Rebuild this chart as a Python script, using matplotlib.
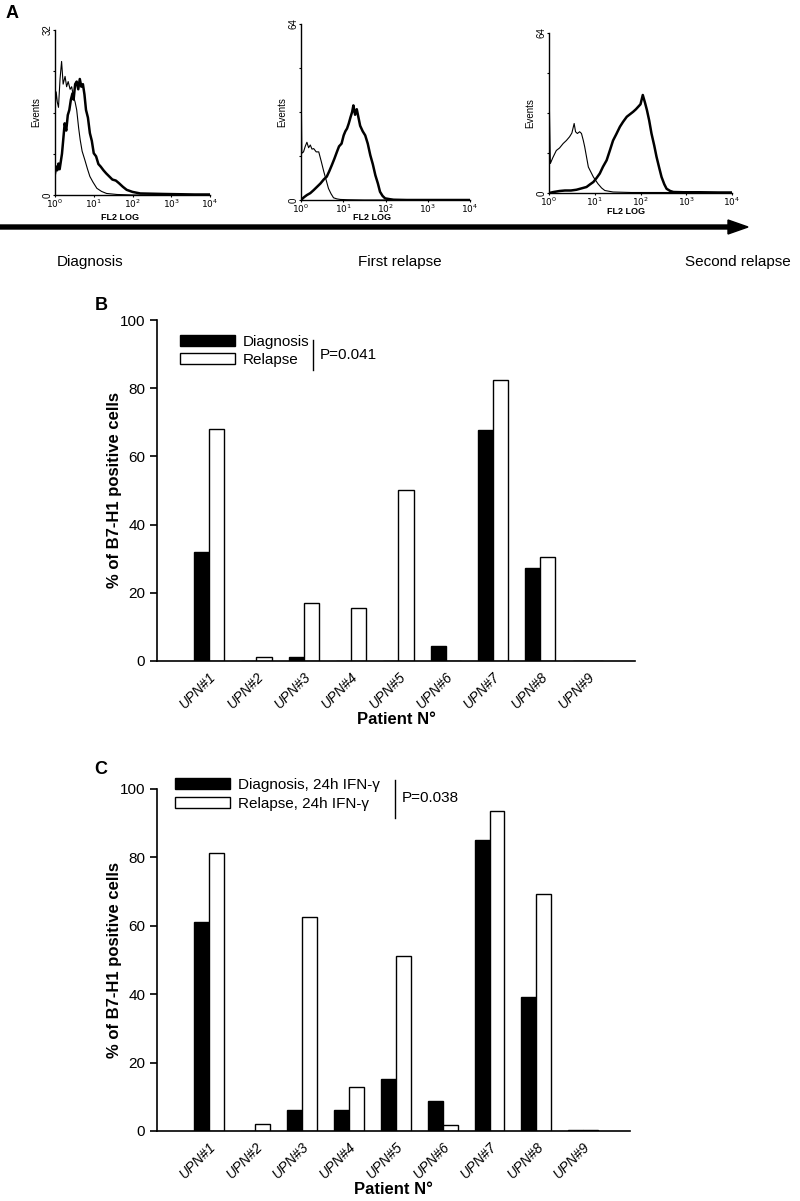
import numpy as np
import matplotlib
matplotlib.use('Agg')
import matplotlib.pyplot as plt
from matplotlib.patches import FancyArrow

plt.rcParams['font.family'] = ['Liberation Sans', 'DejaVu Sans']

# ---- Panel A: flow cytometry histograms (log10 FL2 position, events) ----
h1_ctrl_x = [0.0, 0.03, 0.06, 0.09, 0.13, 0.17, 0.21, 0.26, 0.30, 0.34, 0.39, 0.43, 0.48,
             0.52, 0.56, 0.61, 0.65, 0.70, 0.77, 0.84, 0.90, 0.98, 1.08, 1.20, 1.33, 1.6, 2.0, 2.5, 3.0, 3.5, 4.0]
h1_ctrl_y = [16.5, 20.0, 18.0, 17.0, 22.5, 25.9, 21.5, 23.0, 21.0, 22.0, 20.5, 21.0, 19.0,
             18.0, 16.5, 13.0, 10.7, 8.5, 6.8, 5.0, 3.6, 2.5, 1.3, 0.7, 0.3, 0.1, 0.0, 0.0, 0.0, 0.0, 0.0]
h1_samp_x = [0.0, 0.03, 0.06, 0.09, 0.12, 0.15, 0.18, 0.21, 0.25, 0.29, 0.33, 0.37, 0.41, 0.45,
             0.48, 0.52, 0.56, 0.60, 0.64, 0.68, 0.72, 0.76, 0.80, 0.85, 0.90, 0.95, 1.00, 1.06,
             1.12, 1.18, 1.25, 1.32, 1.40, 1.48, 1.57, 1.65, 1.75, 1.85, 2.0, 2.2, 2.5, 2.8, 3.2, 3.6, 4.0]
h1_samp_y = [4.2, 5.5, 4.8, 6.1, 5.0, 6.5, 8.0, 10.5, 13.9, 12.5, 15.5, 16.5, 18.5, 19.7,
             18.5, 21.5, 22.0, 20.5, 22.5, 21.0, 21.5, 19.5, 16.5, 15.0, 12.0, 10.5, 8.1, 7.5,
             6.0, 5.5, 4.8, 4.2, 3.6, 3.0, 2.8, 2.3, 1.6, 1.0, 0.6, 0.3, 0.25, 0.2, 0.15, 0.1, 0.1]

h2_ctrl_x = [0.0, 0.005, 0.02, 0.06, 0.10, 0.14, 0.18, 0.22, 0.26, 0.30, 0.36, 0.42, 0.48,
             0.54, 0.60, 0.65, 0.71, 0.77, 0.85, 0.93, 1.1, 1.5, 2.0, 3.0, 4.0]
h2_ctrl_y = [0.0, 40.5, 17.0, 17.5, 19.5, 21.0, 19.0, 20.0, 18.5, 18.7, 17.5, 17.5, 14.0,
             10.3, 7.0, 4.2, 2.3, 0.8, 0.4, 0.2, 0.1, 0.0, 0.0, 0.0, 0.0]
h2_samp_x = [0.0, 0.07, 0.14, 0.22, 0.30, 0.38, 0.46, 0.54, 0.61, 0.67, 0.73, 0.79, 0.85,
             0.90, 0.96, 1.01, 1.05, 1.09, 1.13, 1.17, 1.21, 1.24, 1.28, 1.32, 1.36, 1.40,
             1.46, 1.52, 1.58, 1.64, 1.70, 1.76, 1.82, 1.87, 1.93, 1.99, 2.1, 2.19, 2.5, 3.0, 4.0]
h2_samp_y = [0.0, 1.0, 1.8, 2.5, 3.6, 4.8, 6.0, 7.5, 8.5, 10.5, 12.7, 15.0, 17.5,
             19.5, 20.5, 23.5, 25.0, 26.0, 27.8, 30.0, 32.0, 34.4, 31.0, 33.0, 30.0, 27.0,
             25.0, 23.5, 20.5, 16.3, 13.0, 9.0, 6.0, 3.0, 1.5, 0.6, 0.3, 0.1, 0.0, 0.0, 0.0]

h3_ctrl_x = [0.0, 0.005, 0.03, 0.08, 0.16, 0.23, 0.31, 0.38, 0.45, 0.50, 0.55, 0.58, 0.62,
             0.67, 0.71, 0.75, 0.78, 0.86, 0.97, 1.07, 1.15, 1.22, 1.40, 1.8, 2.5, 3.2, 4.0]
h3_ctrl_y = [0.0, 37.9, 11.8, 14.0, 17.0, 18.0, 19.8, 21.0, 22.5, 24.0, 27.8, 24.5, 23.8,
             24.5, 23.8, 21.0, 18.5, 10.4, 6.4, 3.7, 2.0, 1.0, 0.4, 0.2, 0.2, 0.2, 0.2]
h3_samp_x = [0.0, 0.10, 0.23, 0.35, 0.48, 0.60, 0.70, 0.82, 0.90, 0.97, 1.04, 1.11, 1.18,
             1.26, 1.33, 1.40, 1.47, 1.55, 1.62, 1.70, 1.77, 1.84, 1.90, 1.95, 2.00, 2.05,
             2.10, 2.14, 2.19, 2.24, 2.30, 2.35, 2.41, 2.46, 2.52, 2.57, 2.65, 2.72, 2.94, 3.3, 3.7, 4.0]
h3_samp_y = [0.0, 0.4, 0.8, 1.0, 1.0, 1.3, 1.8, 2.4, 3.5, 4.4, 6.0, 7.8, 10.5,
             13.1, 17.0, 21.0, 23.5, 26.5, 28.5, 30.5, 31.5, 32.5, 33.5, 34.5, 35.5, 39.2,
             36.0, 33.2, 29.0, 23.8, 19.0, 14.5, 10.0, 6.4, 3.5, 1.7, 0.8, 0.4, 0.3, 0.3, 0.2, 0.2]

hist_ymax = [32, 64, 64]
timeline_labels = ['Diagnosis', 'First relapse', 'Second relapse']

# ---- Panels B and C: % of B7-H1 positive cells ----
patients = ['UPN#1', 'UPN#2', 'UPN#3', 'UPN#4', 'UPN#5', 'UPN#6', 'UPN#7', 'UPN#8', 'UPN#9']
b_diagnosis = [32.0, 0.0, 1.2, 0.0, 0.0, 4.4, 67.7, 27.3, 0.0]
b_relapse = [68.0, 1.3, 17.0, 15.5, 50.2, 0.0, 82.4, 30.5, 0.0]
c_diagnosis = [61.2, 0.0, 6.0, 6.2, 15.3, 8.7, 85.2, 39.3, 0.3]
c_relapse = [81.4, 2.0, 62.5, 13.0, 51.2, 1.8, 93.5, 69.2, 0.3]

fig = plt.figure(figsize=(8, 12.01), dpi=100)

# ---------------- Panel A ----------------
hist_boxes = [(55, 210, 30, 195), (301, 470, 24, 200), (549, 732, 33, 193)]
xlabel_offsets = [22, 18, 19]   # px below the axis for "FL2 LOG"
hist_data = [(h1_ctrl_x, h1_ctrl_y, h1_samp_x, h1_samp_y),
             (h2_ctrl_x, h2_ctrl_y, h2_samp_x, h2_samp_y),
             (h3_ctrl_x, h3_ctrl_y, h3_samp_x, h3_samp_y)]

W, H = 800.0, 1201.0
for (l, r, t, b), off, (cx, cy, sx, sy), ymax in zip(hist_boxes, xlabel_offsets, hist_data, hist_ymax):
    ax = fig.add_axes([l / W, 1 - b / H, (r - l) / W, (b - t) / H])
    ax.plot(cx, cy, color='black', lw=0.8)
    ax.plot(sx, sy, color='black', lw=1.8)
    ax.set_xlim(0, 4)
    ax.set_ylim(0, ymax)
    ax.spines['top'].set_visible(False)
    ax.spines['right'].set_visible(False)
    ax.spines['left'].set_linewidth(1.0)
    ax.spines['bottom'].set_linewidth(1.0)
    ax.set_xticks(range(5))
    ax.set_xticklabels([r'$10^{%d}$' % i for i in range(5)], fontsize=6.5)
    ax.set_yticks(np.linspace(0, ymax, 5))
    ax.set_yticklabels(['0', '', '', '', str(ymax)], fontsize=7, rotation=90, va='center')
    ax.tick_params(length=1.5, width=0.8, pad=0.5)
    ax.set_xlabel('FL2 LOG', fontsize=6.5, fontweight='bold', va='center')
    ax.xaxis.set_label_coords(0.42, -off / (b - t))
    ax.set_ylabel('Events', fontsize=7, labelpad=1)

# timeline arrow
fig.add_artist(FancyArrow(0.0, 1 - 227 / H, 728 / W, 0, width=4 / H,
                          head_width=14 / H, head_length=20 / W,
                          length_includes_head=False, color='black',
                          transform=fig.transFigure))
for label, xpix in zip(timeline_labels, [90, 400, 738]):
    fig.text(xpix / W, 1 - 262 / H, label, fontsize=11, ha='center', va='center')

fig.text(12 / W, 1 - 13 / H, 'A', fontsize=13, fontweight='bold', ha='center', va='center')
fig.text(101 / W, 1 - 305 / H, 'B', fontsize=13, fontweight='bold', ha='center', va='center')
fig.text(101 / W, 1 - 770 / H, 'C', fontsize=13, fontweight='bold', ha='center', va='center')


def bar_panel(box, diag, rel, labels, pval, bracket, ptext_xy, legend_anchor):
    l, r, t, b = box
    ax = fig.add_axes([l / W, 1 - b / H, (r - l) / W, (b - t) / H])
    x = np.arange(len(patients))
    w = 0.32
    ax.bar(x - w / 2, diag, w, color='black', edgecolor='black', lw=1.0, label=labels[0])
    ax.bar(x + w / 2, rel, w, color='white', edgecolor='black', lw=1.0, label=labels[1])
    ax.set_xlim(-1.1, 9.0)
    ax.set_ylim(0, 100)
    ax.spines['top'].set_visible(False)
    ax.spines['right'].set_visible(False)
    ax.spines['left'].set_linewidth(1.2)
    ax.spines['bottom'].set_linewidth(1.2)
    ax.set_yticks([0, 20, 40, 60, 80, 100])
    ax.tick_params(axis='y', labelsize=11, length=5, width=1.2)
    ax.set_xticks(x)
    ax.set_xticklabels(patients, rotation=45, ha='right', rotation_mode='anchor',
                       fontsize=10, style='italic')
    ax.tick_params(axis='x', length=0, pad=6)
    ax.set_ylabel('% of B7-H1 positive cells', fontsize=12, fontweight='bold')
    ax.yaxis.set_label_coords(-0.073, 0.5)
    ax.set_xlabel('Patient N°', fontsize=12, fontweight='bold', labelpad=1)
    ax.legend(loc='upper left', bbox_to_anchor=legend_anchor, frameon=False, fontsize=11,
              handlelength=3.6, handleheight=0.75, labelspacing=0.3, handletextpad=0.5,
              borderaxespad=0)
    ax.plot([bracket[0], bracket[0]], [bracket[1], bracket[2]], color='black', lw=1.0,
            transform=ax.transAxes, clip_on=False)
    ax.text(ptext_xy[0], ptext_xy[1], pval, transform=ax.transAxes, fontsize=11,
            va='center', ha='left')
    return ax


bar_panel((157, 635, 320, 661), b_diagnosis, b_relapse, ['Diagnosis', 'Relapse'],
          'P=0.041', (0.326, 0.941, 0.853), (0.341, 0.897), (0.035, 0.975))
bar_panel((157, 630, 789, 1131), c_diagnosis, c_relapse,
          ['Diagnosis, 24h IFN-γ', 'Relapse, 24h IFN-γ'],
          'P=0.038', (0.503, 1.026, 0.915), (0.518, 0.974), (0.025, 1.05))

fig.savefig('out.png', dpi=100)
